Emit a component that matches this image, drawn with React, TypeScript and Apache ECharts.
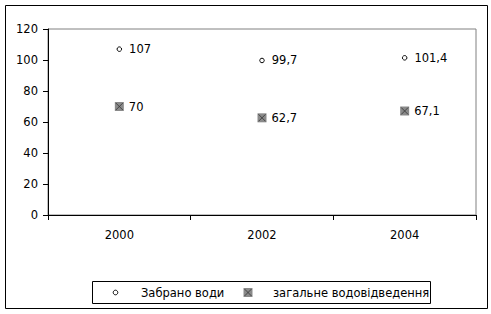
import React, { useEffect, useRef } from "react";
import * as echarts from "echarts";

const categories = ["2000", "2002", "2004"];
const seriesNames = ["Забрано води", "загальне водовідведення"];
const intakeValues = [107, 99.7, 101.4];
const dischargeValues = [70, 62.7, 67.1];
const yTicks = { min: 0, max: 120, interval: 20 };

const FONT = "DejaVu Sans";
const FS = 11.5;
const fmt = (v: number) => String(v).replace(".", ",");

export default function App() {
  const ref = useRef<HTMLDivElement>(null);
  useEffect(() => {
    document.body.style.margin = "0";
    const chart = echarts.init(ref.current!, null, { renderer: "svg" });
    const labelStyle = {
      show: true,
      position: "right" as const,
      distance: 6,
      color: "#000",
      fontFamily: FONT,
      fontSize: FS,
      formatter: (p: any) => fmt(p.value),
    };
    chart.setOption({
      animation: false,
      backgroundColor: "#fff",
      grid: {
        left: 48,
        top: 29,
        right: 15,
        bottom: 99,
        show: true,
        borderColor: "#808080",
        borderWidth: 1,
        backgroundColor: "transparent",
      },
      xAxis: {
        type: "category",
        data: categories,
        boundaryGap: true,
        axisLine: { lineStyle: { color: "#000", width: 1 } },
        axisTick: { show: true, length: 5, lineStyle: { color: "#000" } },
        axisLabel: { color: "#000", fontFamily: FONT, fontSize: FS, margin: 14 },
        splitLine: { show: false },
      },
      yAxis: {
        type: "value",
        min: yTicks.min,
        max: yTicks.max,
        interval: yTicks.interval,
        axisLine: { show: true, lineStyle: { color: "#000", width: 1 } },
        axisTick: { show: true, length: 5, lineStyle: { color: "#000" } },
        axisLabel: { color: "#000", fontFamily: FONT, fontSize: FS, margin: 10 },
        splitLine: { show: false },
      },
      series: [
        {
          name: seriesNames[0],
          type: "scatter",
          data: intakeValues,
          symbol: "circle",
          symbolSize: 4.5,
          itemStyle: { color: "#fff", borderColor: "#000", borderWidth: 1, opacity: 1 },
          label: { ...labelStyle, distance: 7 },
        },
        {
          name: seriesNames[1],
          type: "scatter",
          data: dischargeValues,
          symbol: "rect",
          symbolSize: 9,
          itemStyle: { color: "#8a8a8a", opacity: 1 },
          label: { ...labelStyle, distance: 5 },
        },
        {
          name: "x-overlay",
          type: "scatter",
          data: dischargeValues,
          symbol: "path://M0,0L8,8M8,0L0,8",
          symbolSize: 7,
          silent: true,
          itemStyle: { color: "transparent", borderColor: "#333", borderWidth: 0.8, opacity: 1 },
          label: { show: false },
        },
      ],
      graphic: [
        {
          type: "rect",
          shape: { x: 5.5, y: 5.5, width: 482, height: 303 },
          style: { fill: "none", stroke: "#000", lineWidth: 1 },
          z: -1,
        },
        {
          type: "rect",
          shape: { x: 92.5, y: 281.5, width: 338, height: 22 },
          style: { fill: "#fff", stroke: "#000", lineWidth: 1 },
        },
        {
          type: "circle",
          shape: { cx: 115.5, cy: 292.5, r: 2.3 },
          style: { fill: "#fff", stroke: "#000", lineWidth: 1 },
        },
        {
          type: "text",
          x: 141,
          y: 292.5,
          style: { text: seriesNames[0], fill: "#000", font: `${FS}px "${FONT}"`, verticalAlign: "middle", align: "left" },
        },
        {
          type: "rect",
          shape: { x: 243.5, y: 288, width: 9, height: 9 },
          style: { fill: "#8a8a8a" },
        },
        {
          type: "line",
          shape: { x1: 244.5, y1: 289, x2: 251.5, y2: 296 },
          style: { stroke: "#333", lineWidth: 0.8 },
        },
        {
          type: "line",
          shape: { x1: 251.5, y1: 289, x2: 244.5, y2: 296 },
          style: { stroke: "#333", lineWidth: 0.8 },
        },
        {
          type: "text",
          x: 273,
          y: 292.5,
          style: { text: seriesNames[1], fill: "#000", font: `${FS}px "${FONT}"`, verticalAlign: "middle", align: "left" },
        },
      ],
    });
    return () => chart.dispose();
  }, []);
  return <div ref={ref} style={{ width: 491, height: 314 }} />;
}
